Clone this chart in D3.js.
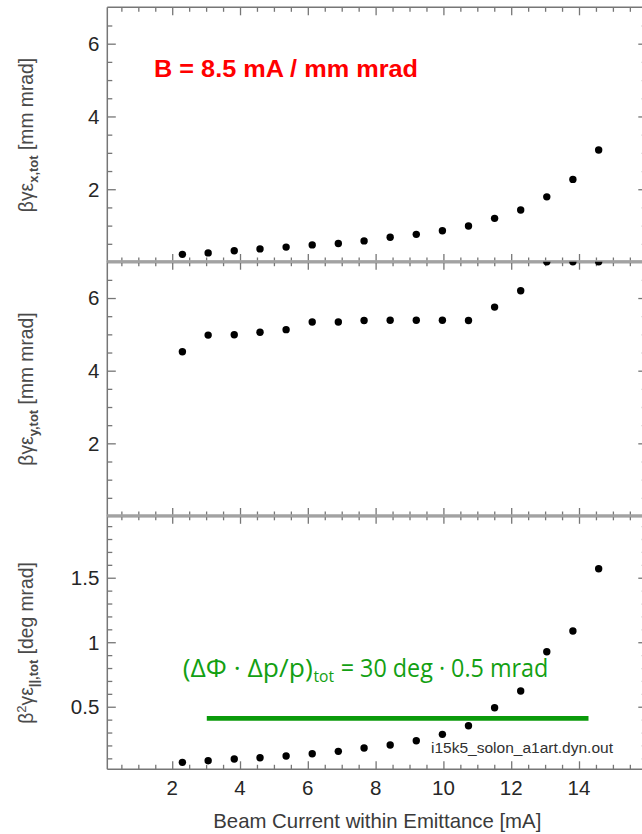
<!DOCTYPE html>
<html>
<head>
<meta charset="utf-8">
<script src="https://cdn.jsdelivr.net/npm/d3@7/dist/d3.min.js"></script>
<style>
  html, body { margin: 0; padding: 0; background: #fff; }
  svg { display: block; }
</style>
</head>
<body>
<svg id="chart" width="642" height="834"></svg>
<script>
// Beam current within emittance [mA] for each simulated case
const current = [2.30, 3.06, 3.83, 4.59, 5.36, 6.13, 6.90, 7.66, 8.43, 9.20, 9.97, 10.74, 11.51, 12.28, 13.05, 13.82, 14.58];

// Normalised total emittances
const emitX = [0.21, 0.25, 0.31, 0.36, 0.41, 0.47, 0.51, 0.58, 0.68, 0.76, 0.86, 0.99, 1.20, 1.43, 1.79, 2.27, 3.08];
const emitY = [4.52, 4.98, 4.99, 5.06, 5.13, 5.34, 5.34, 5.38, 5.39, 5.39, 5.39, 5.38, 5.75, 6.20, 7.00, 7.00, 7.00];
const emitL = [0.069, 0.081, 0.095, 0.105, 0.118, 0.136, 0.154, 0.180, 0.203, 0.236, 0.286, 0.353, 0.492, 0.622, 0.926, 1.087, 1.570];

// Longitudinal acceptance limit (level and current span)
const limitValue = 0.41;
const limitCurrent = [3.02, 14.28];

// Axis ticks
const xMajor = [2, 4, 6, 8, 10, 12, 14, 16];
const xMinor = d3.range(0.5, 16, 0.5);
const trMajor = [2, 4, 6];
const trMinor = d3.range(0.5, 7, 0.5);
const lgMajor = [0.5, 1, 1.5];
const lgMinor = d3.range(1, 20).map(i => i / 10);

const svg = d3.select('#chart');
const axisColor = '#767676';
const FONT = '"Liberation Sans", Arial, Helvetica, sans-serif';

const x = d3.scaleLinear().domain([0.085, 16]).range([107.3, 646.8]);

const panels = [
  { id: 'px', data: emitX, domain: [0, 7], range: [262, 7.3], major: trMajor, minor: trMinor,
    fmt: d => String(d), label: [['βγε', 0], ['x,tot', 1], [' [mm mrad]', 0]], labelY: 135 },
  { id: 'py', data: emitY, domain: [0, 7], range: [516, 261.7], major: trMajor, minor: trMinor,
    fmt: d => String(d), label: [['βγε', 0], ['y,tot', 1], [' [mm mrad]', 0]], labelY: 389 },
  { id: 'pl', data: emitL, domain: [0.015, 1.98], range: [769.3, 515.8], major: lgMajor, minor: lgMinor,
    fmt: d => String(d), label: [['β', 0], ['2', 2], ['γε', 0], ['||,tot', 1], [' [deg mrad]', 0]], labelY: 643 }
];

const x0 = x.range()[0], x1 = x.range()[1];

panels.forEach((p, i) => {
  const y = d3.scaleLinear().domain(p.domain).range(p.range);
  p.y = y;
  const yTop = p.range[1], yBot = p.range[0];
  const g = svg.append('g');

  // clip region of the panel
  svg.append('clipPath').attr('id', 'clip-' + p.id)
    .append('rect').attr('x', x0).attr('y', yTop).attr('width', x1 - x0).attr('height', yBot - yTop);

  // inward ticks on all four sides, drawn with d3 axes
  const tickStyle = sel => {
    sel.select('.domain').remove();
    sel.selectAll('line').attr('stroke', axisColor).attr('stroke-width', 1.3);
    sel.selectAll('text').remove();
  };
  g.append('g').attr('transform', `translate(0,${yBot})`)
    .call(d3.axisTop(x).tickValues(xMajor).tickSize(8)).call(tickStyle);
  g.append('g').attr('transform', `translate(0,${yBot})`)
    .call(d3.axisTop(x).tickValues(xMinor.filter(v => v % 2 !== 0)).tickSize(4.5)).call(tickStyle);
  g.append('g').attr('transform', `translate(0,${yTop})`)
    .call(d3.axisBottom(x).tickValues(xMajor).tickSize(8)).call(tickStyle);
  g.append('g').attr('transform', `translate(0,${yTop})`)
    .call(d3.axisBottom(x).tickValues(xMinor.filter(v => v % 2 !== 0)).tickSize(4.5)).call(tickStyle);

  const isMajor = v => p.major.some(m => Math.abs(m - v) < 1e-9);
  g.append('g').attr('transform', `translate(${x0},0)`)
    .call(d3.axisRight(y).tickValues(p.major).tickSize(8.5)).call(tickStyle);
  g.append('g').attr('transform', `translate(${x0},0)`)
    .call(d3.axisRight(y).tickValues(p.minor.filter(v => !isMajor(v))).tickSize(5)).call(tickStyle);
  g.append('g').attr('transform', `translate(${x1},0)`)
    .call(d3.axisLeft(y).tickValues(p.major).tickSize(8.5)).call(tickStyle);
  g.append('g').attr('transform', `translate(${x1},0)`)
    .call(d3.axisLeft(y).tickValues(p.minor.filter(v => !isMajor(v))).tickSize(5)).call(tickStyle);

  // frame
  g.append('line').attr('x1', x0).attr('x2', x0).attr('y1', yTop).attr('y2', yBot)
    .attr('stroke', axisColor).attr('stroke-width', 1.5);
  g.append('line').attr('x1', x1).attr('x2', x1).attr('y1', yTop).attr('y2', yBot)
    .attr('stroke', axisColor).attr('stroke-width', 1.5);
  [yTop, yBot].forEach(yy => {
    const shared = (yy === yTop && i > 0) || (yy === yBot && i < panels.length - 1);
    g.append('line').attr('x1', x0).attr('x2', x1).attr('y1', yy).attr('y2', yy)
      .attr('stroke', shared ? '#a2a2a2' : axisColor).attr('stroke-width', shared ? 2.8 : 1.5);
  });

  // y tick labels
  g.append('g').selectAll('text').data(p.major).join('text')
    .attr('x', x0 - 8).attr('y', d => y(d)).attr('dy', '0.36em')
    .attr('text-anchor', 'end').attr('font-family', FONT).attr('font-size', 20.5)
    .attr('fill', '#262626').text(p.fmt);

  // rotated y axis title with sub/superscripts
  const t = svg.append('text')
    .attr('transform', `translate(33,${p.labelY}) rotate(-90)`)
    .attr('text-anchor', 'middle').attr('font-family', FONT).attr('font-size', 19.3)
    .attr('fill', '#4a4a4a');
  let shift = 0;
  p.label.forEach(([s, kind]) => {
    const target = kind === 1 ? 5 : kind === 2 ? -7 : 0;
    t.append('tspan').attr('dy', target - shift)
      .attr('font-size', kind === 0 ? 19.3 : 13)
      .attr('font-weight', kind === 1 ? 'bold' : 'normal')
      .text(s);
    shift = target;
  });

  // data points
  svg.append('g').attr('clip-path', `url(#clip-${p.id})`)
    .selectAll('circle').data(p.data).join('circle')
    .attr('cx', (d, k) => x(current[k])).attr('cy', d => y(d))
    .attr('r', 3.7).attr('fill', '#000');
});

// x tick labels under the bottom panel
const yBottom = panels[2].range[0];
svg.append('g').selectAll('text').data(xMajor.filter(v => v < 16)).join('text')
  .attr('x', d => x(d)).attr('y', yBottom + 26)
  .attr('text-anchor', 'middle').attr('font-family', FONT).attr('font-size', 20.5)
  .attr('fill', '#262626').text(d => d);

svg.append('text').attr('x', 213.3).attr('y', 828)
  .attr('font-family', FONT).attr('font-size', 20.3).attr('fill', '#3a3a3a')
  .attr('textLength', 328).attr('lengthAdjust', 'spacingAndGlyphs')
  .text('Beam Current within Emittance [mA]');

// brightness annotation
svg.append('text').attr('x', 154).attr('y', 76.7)
  .attr('font-family', FONT).attr('font-size', 24.5).attr('font-weight', 'bold').attr('fill', '#ff0000')
  .attr('textLength', 264).attr('lengthAdjust', 'spacingAndGlyphs')
  .text('B = 8.5 mA / mm mrad');

// longitudinal limit line and its label
const yL = panels[2].y;
svg.append('line')
  .attr('x1', x(limitCurrent[0])).attr('x2', x(limitCurrent[1]))
  .attr('y1', yL(limitValue)).attr('y2', yL(limitValue))
  .attr('stroke', '#0a9a0a').attr('stroke-width', 4.8);

const GFONT = '"Open Sans", "Noto Sans", sans-serif';
const green = '#13a013';
svg.append('text').attr('x', 182.7).attr('y', 676.7)
  .attr('font-family', GFONT).attr('font-size', 26).attr('fill', green)
  .attr('textLength', 130).attr('lengthAdjust', 'spacingAndGlyphs')
  .text('(ΔΦ · Δp/p)');
svg.append('text').attr('x', 313.5).attr('y', 682)
  .attr('font-family', GFONT).attr('font-size', 16).attr('fill', green)
  .attr('textLength', 20.5).attr('lengthAdjust', 'spacingAndGlyphs')
  .text('tot');
svg.append('text').attr('x', 340.7).attr('y', 676.7)
  .attr('font-family', GFONT).attr('font-size', 26).attr('fill', green)
  .attr('textLength', 207.6).attr('lengthAdjust', 'spacingAndGlyphs')
  .text('= 30 deg · 0.5 mrad');

// run file name
svg.append('text').attr('x', 431).attr('y', 752.5)
  .attr('font-family', FONT).attr('font-size', 15.5).attr('fill', '#303030')
  .attr('textLength', 182).attr('lengthAdjust', 'spacingAndGlyphs')
  .text('i15k5_solon_a1art.dyn.out');
</script>
</body>
</html>
